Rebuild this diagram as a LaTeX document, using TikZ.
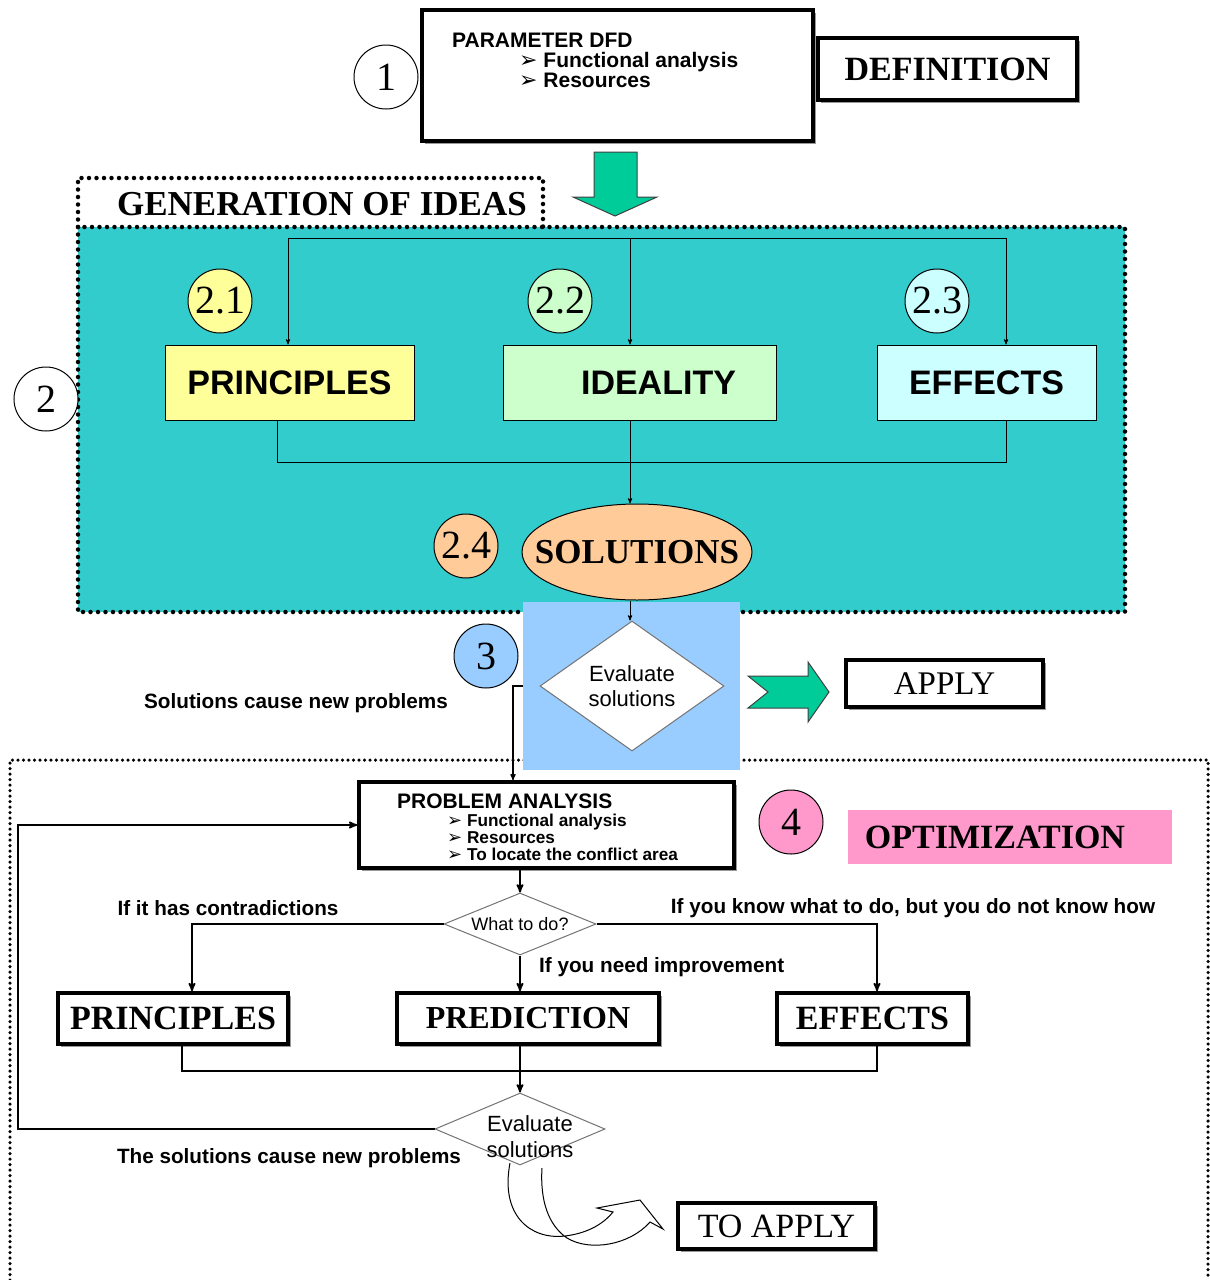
\documentclass[tikz,border=0pt]{standalone}
\usepackage{fontspec}
\setmainfont{Liberation Serif}
\setsansfont{Liberation Sans}
\newfontfamily\dejavu{DejaVu Sans}
\usetikzlibrary{arrows}
\usetikzlibrary{shapes.geometric}
\usetikzlibrary{shadows}
\usepackage{xcolor}

\definecolor{ideateal}{RGB}{51,204,204}
\definecolor{lemon}{RGB}{255,255,153}
\definecolor{mint}{RGB}{204,255,204}
\definecolor{ice}{RGB}{204,255,255}
\definecolor{peach}{RGB}{255,204,153}
\definecolor{sky}{RGB}{153,204,255}
\definecolor{rose}{RGB}{255,153,204}
\definecolor{arrowgreen}{RGB}{0,204,153}

\newcommand{\bul}[1]{\smash{\dejavu\fontsize{#1}{#1}\selectfont ➢}}

\tikzset{
  num/.style={circle, draw=black, line width=1pt, minimum size=64pt, inner sep=0pt, font=\fontsize{40}{40}\selectfont},
  ideabox/.style={rectangle, draw=black, line width=1pt, minimum height=75pt, inner sep=0pt, font=\sffamily\bfseries\fontsize{34}{34}\selectfont},
  headbox/.style={rectangle, draw=black, line width=3.5pt, fill=white, inner sep=0pt,
    drop shadow={shadow xshift=2.5pt, shadow yshift=-2.5pt, fill=black!40, opacity=1}},
  bigtitle/.style={font=\bfseries\fontsize{34}{34}\selectfont},
  plaintitle/.style={font=\fontsize{34}{34}\selectfont},
  note/.style={font=\sffamily\bfseries\fontsize{20.7}{20.7}\selectfont, inner sep=0pt},
  choice/.style={diamond, draw=black!55, line width=1pt, fill=white, inner sep=0pt},
  thinflow/.style={->, >=stealth', line width=.9pt},
  flow/.style={->, >=stealth', line width=1.8pt},
  tealdots/.style={line width=4.5pt, dash pattern=on 0pt off 7.5pt, line cap=round},
  lowdots/.style={line width=3.5pt, dash pattern=on 0pt off 5.5pt, line cap=round},
  bigarrow/.style={fill=arrowgreen, draw=black!75, line width=1pt, line join=miter}
}

\begin{document}
\begin{tikzpicture}[x=1pt, y=-1pt]
\useasboundingbox (0,0) rectangle (1210,1280);

% generation of ideas
\fill[ideateal] (78,227) rectangle (1125,612);
\draw[tealdots] (78,227) rectangle (1125,612);
\draw[tealdots] (78,227) -- (78,178) -- (543,178) -- (543,227);
\node[bigtitle, font=\bfseries\fontsize{35}{35}\selectfont] (genlbl) at (322,204) {GENERATION OF IDEAS};

% optimization
\draw[lowdots] (10,1280) -- (10,760) -- (1208,760) -- (1208,1280);
\node[fill=sky, minimum width=217pt, minimum height=168pt, inner sep=0pt] (evalbg) at (631.5,686) {};

% definition
\node[num, fill=white] (c1) at (386,77) {1};
\node[headbox, minimum width=391pt, minimum height=131pt] (dfd) at (617.5,75.5) {};
\node[anchor=north west, align=left, inner sep=0pt, font=\sffamily\bfseries\fontsize{21}{20}\selectfont] (dfdtxt) at (452,33)
  {PARAMETER DFD\\\hspace*{67pt}\bul{22}\ Functional analysis\\\hspace*{67pt}\bul{22}\ Resources};
\node[headbox, bigtitle, minimum width=259pt, minimum height=62pt] (defn) at (947.5,69) {DEFINITION};
\draw[bigarrow] (594,152) -- (637,152) -- (637,197) -- (657,197) -- (615,216) -- (573,197) -- (594,197) -- cycle;

\node[num, fill=white] (c2) at (46,399) {2};
\foreach \nm/\t/\x/\y/\c in {c21/2.1/220/301/lemon, c22/2.2/560/301/mint, c23/2.3/937/301/ice, c24/2.4/466/546/peach} {
  \node[num, fill=\c] (\nm) at (\x,\y) {\t};
}
\node[ideabox, fill=lemon, minimum width=249pt] (prin) at (289.5,382.5) {PRINCIPLES};
\node[ideabox, fill=mint, minimum width=273pt] (ideal) at (639.5,382.5) {\hspace*{38pt}IDEALITY};
\node[ideabox, fill=ice, minimum width=219pt] (eff) at (986.5,382.5) {EFFECTS};
\node[ellipse, draw=black, line width=1pt, fill=peach, minimum width=230pt, minimum height=96pt, inner sep=0pt,
  font=\bfseries\fontsize{35}{35}\selectfont] (sol) at (637,552) {\makebox[0pt]{SOLUTIONS}};

\coordinate (tp) at (288,238);
\coordinate (ti) at (630,238);
\coordinate (te) at (1006,238);
\coordinate (bp) at (277,462);
\coordinate (be) at (1006,462);
\draw[line width=.9pt] (tp) -- (te);
\foreach \p/\b in {tp/prin, ti/ideal, te/eff} {
  \draw[thinflow] (\p) -- (\p |- \b.north);
}
\draw[line width=.9pt] (bp |- prin.south) -- (bp) -- (be) -- (be |- eff.south);
\draw[thinflow] (ti |- ideal.south) -- (ti |- sol.north);

% evaluate
\node[num, fill=sky] (c3) at (486,656) {3};
\node[choice, aspect=1.4, minimum width=184pt, minimum height=130pt, align=center,
  font=\sffamily\fontsize{22}{25}\selectfont] (ev1) at (632,686) {Evaluate\\solutions};
\draw[thinflow] (ti |- sol.south) -- (ti |- ev1.north);
\draw[bigarrow] (748,676) -- (808,676) -- (808,662) -- (829,692) -- (808,722) -- (808,708) -- (748,708) -- (768,692) -- cycle;
\node[headbox, plaintitle, font=\fontsize{33}{33}\selectfont, minimum width=197pt, minimum height=47pt] (apply) at (944.5,683.5) {APPLY};
\node[note] (newprob) at (296,703) {Solutions cause new problems};

% problem analysis
\node[headbox, minimum width=375pt, minimum height=86pt] (pa) at (546.5,825) {};
\node[anchor=north west, align=left, inner sep=0pt, font=\sffamily\bfseries\fontsize{21}{17}\selectfont] (patxt) at (397,794)
  {PROBLEM ANALYSIS\\[1pt]
   {\fontsize{17.2}{17}\selectfont\hspace*{50pt}\bul{18}\ Functional analysis}\\
   {\fontsize{17.2}{17}\selectfont\hspace*{50pt}\bul{18}\ Resources}\\
   {\fontsize{17.2}{17}\selectfont\hspace*{50pt}\bul{18}\ To locate the conflict area}};
\coordinate (drop) at (513,686);
\draw[flow, line width=1.2pt] (evalbg.west) -- (drop) -- (drop |- pa.north);

\node[num, fill=rose] (c4) at (791,822) {4};
\node[fill=rose, bigtitle, minimum width=324pt, minimum height=54pt, inner sep=0pt] (opt) at (1010,837) {OPTIMIZATION\hspace*{30pt}};

\node[choice, aspect=2.45, minimum width=152pt, minimum height=62pt, font=\sffamily\fontsize{18}{18}\selectfont] (wtd) at (520,924) {What to do?};
\node[headbox, bigtitle, minimum width=230pt, minimum height=51pt] (lp) at (173,1018.5) {PRINCIPLES};
\node[headbox, bigtitle, font=\bfseries\fontsize{32}{32}\selectfont, minimum width=262pt, minimum height=51pt] (pred) at (528,1018.5) {PREDICTION};
\node[headbox, bigtitle, minimum width=191pt, minimum height=51pt] (le) at (872.5,1018.5) {EFFECTS};

\draw[flow] (pa.south -| wtd) -- (wtd.north);
\draw[flow] (wtd.west) -| ([xshift=19pt]lp.north);
\draw[flow] (wtd.east) -| ([xshift=4.5pt]le.north);
\draw[flow] (wtd.south) -- (wtd.south |- pred.north);
\node[note] (contr) at (228,908) {If it has contradictions};
\node[note] (howto) at (913,908) {If you know what to do, but you do not know how};
\node[note, anchor=west] (improve) at (539,967) {If you need improvement};

\node[choice, minimum width=170pt, minimum height=72pt] (ev2) at (520,1129) {};
\draw[line width=1.8pt] ([xshift=9pt]lp.south) -- ++(0,25) -| ([xshift=4.5pt]le.south);
\draw[flow] (pred.south -| ev2) -- (ev2.north);
\coordinate (loop) at (18,1129);
\draw[flow] (ev2.west) -- (loop) |- (pa.west);
\node[note] (again) at (289,1158) {The solutions cause new problems};

\draw[line width=1pt, line join=miter] (510,1163) .. controls (500,1215) and (530,1240) .. (565,1236)
  .. controls (590,1233) and (605,1222) .. (613,1212) -- (597,1208) -- (640,1200) -- (663,1229) -- (650,1222)
  .. controls (630,1245) and (590,1252) .. (567,1238) .. controls (548,1225) and (540,1200) .. (542,1168);
\node[align=center, inner sep=0pt, font=\sffamily\fontsize{22}{26}\selectfont] (ev2txt) at (530,1137) {Evaluate\\solutions};
\node[headbox, plaintitle, minimum width=197pt, minimum height=46pt] (toapply) at (776.5,1226) {TO APPLY};
\end{tikzpicture}
\end{document}
